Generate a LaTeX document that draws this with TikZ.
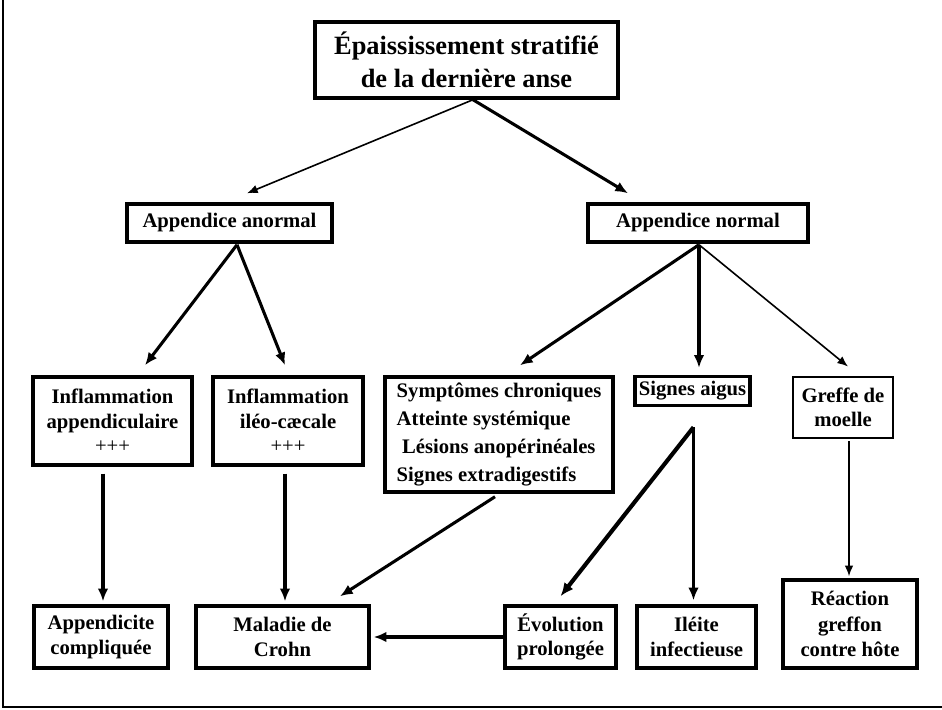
\documentclass[tikz,border=0pt]{standalone}
\usepackage{fontspec}
\setmainfont{Liberation Serif}
\usetikzlibrary{arrows.meta,calc}

\begin{document}
\begin{tikzpicture}[x=0.75pt,y=-0.75pt,
  box/.style={draw,line width=2.6pt,inner sep=0pt,align=center,
    font=\bfseries\fontsize{15.5}{18.4}\selectfont},
  sz/.style 2 args={minimum width=#1*0.75pt,minimum height=#2*0.75pt},
  thin/.style={line width=1.2pt,-{Latex[length=8pt,width=6.5pt]}},
  thick/.style={line width=2.3pt,-{Latex[length=9.5pt,width=8pt]}},
  heavy/.style={line width=3.1pt,-{Latex[length=10pt,width=8.5pt]}}]
\useasboundingbox (0,0) rectangle (942,710);
% outer frame (left and bottom edges)
\draw[line width=1.8pt] (3,0) -- (3,707) -- (942,707);

% boxes
\node[box,sz={303}{76},font=\bfseries\fontsize{19.8}{24.8}\selectfont] (top) at (466.5,60)
  {Épaississement stratifié\\de la dernière anse};
\node[box,sz={205}{38}] (anorm) at (229.5,223) {Appendice anormal};
\node[box,sz={220}{38}] (norm) at (698,223) {Appendice normal};

\node[box,sz={159}{88}] (infA) at (112.5,421)
  {Inflammation\\appendiculaire\\{\mdseries +++}};
\node[box,sz={150}{88}] (infI) at (288,421)
  {Inflammation\\iléo-cæcale\\{\mdseries +++}};
\node[box,sz={228}{115},align=left,font=\bfseries\fontsize{15.5}{21}\selectfont] (sympt) at (499,434.5)
  {Symptômes chroniques\\Atteinte systémique\\\hspace*{4pt}Lésions anopérinéales\\Signes extradigestifs};
\node[draw,line width=2.6pt,inner sep=0pt,sz={115}{29},font=\bfseries\fontsize{15.5}{18.4}\selectfont]
  (aigus) at (692.5,391) {Signes aigus};
\node[box,sz={100}{61},line width=2.2pt] (greffe) at (843,407.5) {Greffe de\\moelle};

\node[box,sz={134}{62}] (appC) at (101,637) {Appendicite\\compliquée};
\node[box,sz={173}{62}] (crohn) at (282.5,637) {Maladie de\\Crohn};
\node[box,sz={111}{62}] (evol) at (560.5,637) {Évolution\\prolongée};
\node[box,sz={119}{62}] (ileite) at (696.5,637) {Iléite\\infectieuse};
\node[box,sz={134}{88},font=\bfseries\fontsize{15.5}{19}\selectfont] (react) at (850,624)
  {Réaction\\greffon\\contre hôte};

% connectors
\draw[thin]  ($(top.south)+(6.5,0)$) -- ($(anorm.north)+(17.5,-9)$);
\draw[thick] ($(top.south)+(6.5,0)$) -- ($(norm.north)+(-70,-9)$);

\draw[thick] ($(anorm.south)+(7.5,1)$) -- ($(infA.north)+(32.5,-10)$);
\draw[thick] ($(anorm.south)+(7.5,1)$) -- ($(infI.north)+(-3,-10)$);

\draw[thick] ($(norm.south)+(1,1)$) -- ($(sympt.north)+(21,-10)$);
\draw[thick] ($(norm.south)+(1,1)$) -- ($(aigus.north)+(6.5,-7)$);
\draw[thin]  ($(norm.south)+(1,1)$) -- ($(greffe.north)+(5,-9)$);

\draw[thick] ($(infA.south)+(-9.5,7)$) -- ($(appC.north)+(2,-3)$);
\draw[thick] ($(infI.south)+(-3,7)$) -- ($(crohn.north)+(2.5,-3)$);
\draw[thick] ($(sympt.south)+(-4,3)$) -- ($(crohn.north)+(57.5,-8)$);

\draw[heavy] ($(aigus.south)+(1,20)$) -- ($(evol.north)+(0,-8)$);
\draw[thick] ($(aigus.south)+(1,20)$) -- ($(ileite.north)+(-3,-4)$);
\draw[thick] (evol.west) -- ($(crohn.east)+(3,0)$);

\draw[thin]  ($(greffe.south)+(6,2)$) -- ($(react.north)+(-1,-2)$);
\end{tikzpicture}
\end{document}
